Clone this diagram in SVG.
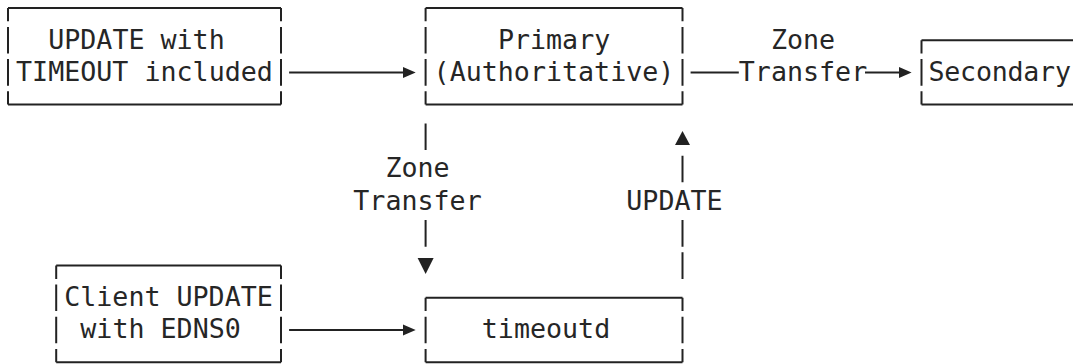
<svg xmlns="http://www.w3.org/2000/svg" width="1073" height="364" viewBox="0 0 1073 364">
  <style>
    .frame { fill: none; stroke: #222; stroke-width: 2; }
    .wire { fill: none; stroke: #222; stroke-width: 2; }
    .head { fill: #222; stroke: none; }
    text { font-family: "DejaVu Sans Mono", "Liberation Mono", monospace; font-size: 26.67px; fill: #262626; white-space: pre; }
  </style>
  <rect width="1073" height="364" fill="#ffffff"/>

  <!-- nodes: character-cell boxes, vertical edges broken between text rows -->
  <g id="update-timeout">
    <path class="frame" d="M8 8H281M8 104.6H281
      M8 8V21.3M8 26.9V53.5M8 59.1V85.7M8 91.3V104.6
      M281 8V21.3M281 26.9V53.5M281 59.1V85.7M281 91.3V104.6"/>
    <text x="48.2" y="48.5">UPDATE with</text>
    <text x="16.06" y="80.7">TIMEOUT included</text>
  </g>

  <g id="primary">
    <path class="frame" d="M425.6 8H682.5M425.6 104.6H682.5
      M425.6 8V21.3M425.6 26.9V53.5M425.6 59.1V85.7M425.6 91.3V104.6
      M682.5 8V21.3M682.5 26.9V53.5M682.5 59.1V85.7M682.5 91.3V104.6"/>
    <text x="497.9" y="48.5">Primary</text>
    <text x="433.6" y="80.7">(Authoritative)</text>
  </g>

  <g id="secondary">
    <path class="frame" d="M921.5 40.2H1080M921.5 104.6H1080
      M921.5 40.2V53.5M921.5 59.1V85.7M921.5 91.3V104.6"/>
    <text x="928.5" y="80.7" letter-spacing="-0.25">Secondary</text>
  </g>

  <g id="client">
    <path class="frame" d="M56.2 265.6H281M56.2 362.2H281
      M56.2 265.6V278.9M56.2 284.5V311.1M56.2 316.7V343.3M56.2 348.9V362.2
      M281 265.6V278.9M281 284.5V311.1M281 316.7V343.3M281 348.9V362.2"/>
    <text x="64.2" y="306.1">Client UPDATE</text>
    <text x="80.3" y="338.3">with EDNS0</text>
  </g>

  <g id="timeoutd">
    <path class="frame" d="M425.6 297.8H682.5M425.6 362.2H682.5
      M425.6 297.8V311.1M425.6 316.7V343.3M425.6 348.9V362.2
      M682.5 297.8V311.1M682.5 316.7V343.3M682.5 348.9V362.2"/>
    <text x="481.8" y="338.3">timeoutd</text>
  </g>

  <!-- connectors and their labels -->
  <g id="connectors">
    <!-- UPDATE with TIMEOUT -> Primary -->
    <path class="wire" d="M289.1 72.4H404"/>
    <polygon class="head" points="403,66.9 415.7,72.4 403,77.9"/>

    <!-- Primary -> Secondary (zone transfer) -->
    <path class="wire" d="M690.6 72.4H738.8M865 72.4H900"/>
    <polygon class="head" points="899,66.9 911.6,72.4 899,77.9"/>
    <text x="770.9" y="48.5">Zone</text>
    <text x="738.8" y="80.7">Transfer</text>

    <!-- Primary -> timeoutd (zone transfer) -->
    <path class="wire" d="M425.6 123.5V150.1M425.6 220.1V246.7"/>
    <polygon class="head" points="417.6,258 433.6,258 425.6,274"/>
    <text x="385.4" y="177.3">Zone</text>
    <text x="353.3" y="209.5">Transfer</text>

    <!-- timeoutd -> Primary (update) -->
    <polygon class="head" points="682.5,131 690,145 675,145"/>
    <path class="wire" d="M682.5 155.7V182.3M682.5 220.1V246.7M682.5 252.3V278.9"/>
    <text x="626.3" y="209.5">UPDATE</text>

    <!-- Client UPDATE -> timeoutd -->
    <path class="wire" d="M289.1 330H404"/>
    <polygon class="head" points="403,324.5 415.7,330 403,335.5"/>
  </g>
</svg>
